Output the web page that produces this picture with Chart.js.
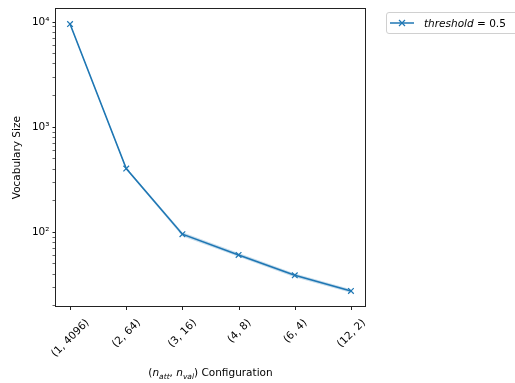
<!DOCTYPE html>
<html>
<head>
<meta charset="utf-8">
<script src="https://cdn.jsdelivr.net/npm/chart.js@4.4.0/dist/chart.umd.min.js"></script>
<style>
  html, body { margin: 0; padding: 0; background: #fff; }
  #wrap { width: 515px; height: 383px; position: relative; }
</style>
</head>
<body>
<div id="wrap"><canvas id="vocab-chart"></canvas></div>
<script>
// data
const configs = ['(1, 4096)', '(2, 64)', '(3, 16)', '(4, 8)', '(6, 4)', '(12, 2)'];
const vocabSize = [9600, 404, 96, 61, 39, 27.7];
const vocabLow = [9400, 394, 92, 58.5, 37.4, 26.6];
const vocabHigh = [9800, 414, 100, 63.5, 40.6, 28.8];
const yTicks = [20, 30, 40, 50, 60, 70, 80, 90,
                100, 200, 300, 400, 500, 600, 700, 800, 900,
                1000, 2000, 3000, 4000, 5000, 6000, 7000, 8000, 9000, 10000];
const yTickLabels = { 100: '10²', 1000: '10³', 10000: '10⁴' };

const BLUE = '#1f77b4';
const FONT = '"DejaVu Sans", sans-serif';

function pts(arr) {
  return arr.map((v, i) => ({ x: i, y: v }));
}

// spines, x ticks/labels, x title and legend drawn on top
const extras = {
  id: 'extras',
  afterDraw(chart) {
    const ctx = chart.ctx;
    const a = chart.chartArea;
    const xs = chart.scales.x;
    ctx.save();

    // box
    ctx.strokeStyle = '#222';
    ctx.lineWidth = 1;
    ctx.strokeRect(Math.round(a.left) - 0.5, Math.round(a.top) - 0.5,
                   Math.round(a.right - a.left) + 1, Math.round(a.bottom - a.top) + 1);

    // x ticks + rotated labels
    ctx.font = '10.5px ' + FONT;
    ctx.fillStyle = '#000';
    configs.forEach((lab, i) => {
      const px = Math.round(xs.getPixelForValue(i)) + 0.5;
      ctx.beginPath();
      ctx.moveTo(px, a.bottom);
      ctx.lineTo(px, a.bottom + 4);
      ctx.stroke();
      const w = ctx.measureText(lab).width;
      const side = (w + 12) * Math.SQRT1_2;
      ctx.save();
      ctx.translate(px, a.bottom + 11 + side / 2);
      ctx.rotate(-Math.PI / 4);
      ctx.textAlign = 'center';
      ctx.textBaseline = 'middle';
      ctx.fillText(lab, 0, 0);
      ctx.restore();
    });

    // x title with subscripts
    const parts = [
      ['(', '10.5px ' + FONT, 0],
      ['n', 'italic 10.5px ' + FONT, 0],
      ['att', 'italic 7.5px ' + FONT, 2.5],
      [', ', '10.5px ' + FONT, 0],
      ['n', 'italic 10.5px ' + FONT, 0],
      ['val', 'italic 7.5px ' + FONT, 2.5],
      [') Configuration', '10.5px ' + FONT, 0]
    ];
    let total = 0;
    parts.forEach(p => { ctx.font = p[1]; total += ctx.measureText(p[0]).width; });
    let tx = (a.left + a.right) / 2 - total / 2;
    ctx.textAlign = 'left';
    ctx.textBaseline = 'alphabetic';
    parts.forEach(p => {
      ctx.font = p[1];
      ctx.fillText(p[0], tx, 376 + p[2]);
      tx += ctx.measureText(p[0]).width;
    });

    // legend
    const lx = 386.5, ly = 12.5, lw = 140, lh = 21;
    ctx.beginPath();
    ctx.roundRect(lx, ly, lw, lh, 2.5);
    ctx.fillStyle = 'rgba(255,255,255,0.8)';
    ctx.fill();
    ctx.strokeStyle = '#d0d0d0';
    ctx.stroke();
    ctx.strokeStyle = BLUE;
    ctx.lineWidth = 1.5;
    ctx.beginPath();
    ctx.moveTo(390, 23);
    ctx.lineTo(414, 23);
    ctx.stroke();
    ctx.lineWidth = 1.2;
    ctx.beginPath();
    ctx.moveTo(399, 20); ctx.lineTo(405, 26);
    ctx.moveTo(405, 20); ctx.lineTo(399, 26);
    ctx.stroke();
    ctx.fillStyle = '#000';
    ctx.font = 'italic 10.5px ' + FONT;
    ctx.fillText('threshold', 424, 27);
    const tw = ctx.measureText('threshold').width;
    ctx.font = '10.5px ' + FONT;
    ctx.fillText(' = 0.5', 424 + tw, 27);

    ctx.restore();
  }
};

new Chart(document.getElementById('vocab-chart'), {
  type: 'line',
  data: {
    datasets: [
      {
        label: 'low',
        data: pts(vocabLow),
        borderWidth: 0,
        pointRadius: 0,
        fill: false
      },
      {
        label: 'high',
        data: pts(vocabHigh),
        borderWidth: 0,
        pointRadius: 0,
        backgroundColor: 'rgba(31,119,180,0.25)',
        fill: '-1'
      },
      {
        label: 'threshold = 0.5',
        data: pts(vocabSize),
        borderColor: BLUE,
        borderWidth: 1.6,
        pointStyle: 'crossRot',
        pointRadius: 4,
        pointBorderWidth: 1.2,
        pointBorderColor: BLUE,
        fill: false,
        tension: 0
      }
    ]
  },
  options: {
    responsive: true,
    maintainAspectRatio: false,
    animation: false,
    layout: { padding: { top: 6, right: 150, left: 0, bottom: 0 } },
    plugins: {
      legend: { display: false },
      tooltip: { enabled: false }
    },
    scales: {
      x: {
        type: 'linear',
        min: -0.25,
        max: 5.25,
        grid: { display: false },
        border: { display: false },
        ticks: { display: false },
        afterFit: s => { s.height = 77; }
      },
      y: {
        type: 'logarithmic',
        min: 19.9,
        max: 13260,
        afterBuildTicks: s => { s.ticks = yTicks.map(v => ({ value: v })); },
        afterFit: s => { s.width = 56; },
        border: { display: false },
        grid: {
          drawOnChartArea: false,
          drawTicks: true,
          tickLength: 3.5,
          color: '#222',
          lineWidth: c => (yTickLabels[c.tick && c.tick.value] ? 1 : 0.7)
        },
        ticks: {
          autoSkip: false,
          padding: 3,
          color: '#000',
          font: { family: FONT, size: 10.5 },
          callback: v => yTickLabels[v] || ''
        },
        title: {
          display: true,
          text: 'Vocabulary Size',
          color: '#000',
          font: { family: FONT, size: 10.5 },
          padding: { top: 10.5, bottom: 0 }
        }
      }
    }
  },
  plugins: [extras]
});
</script>
</body>
</html>
